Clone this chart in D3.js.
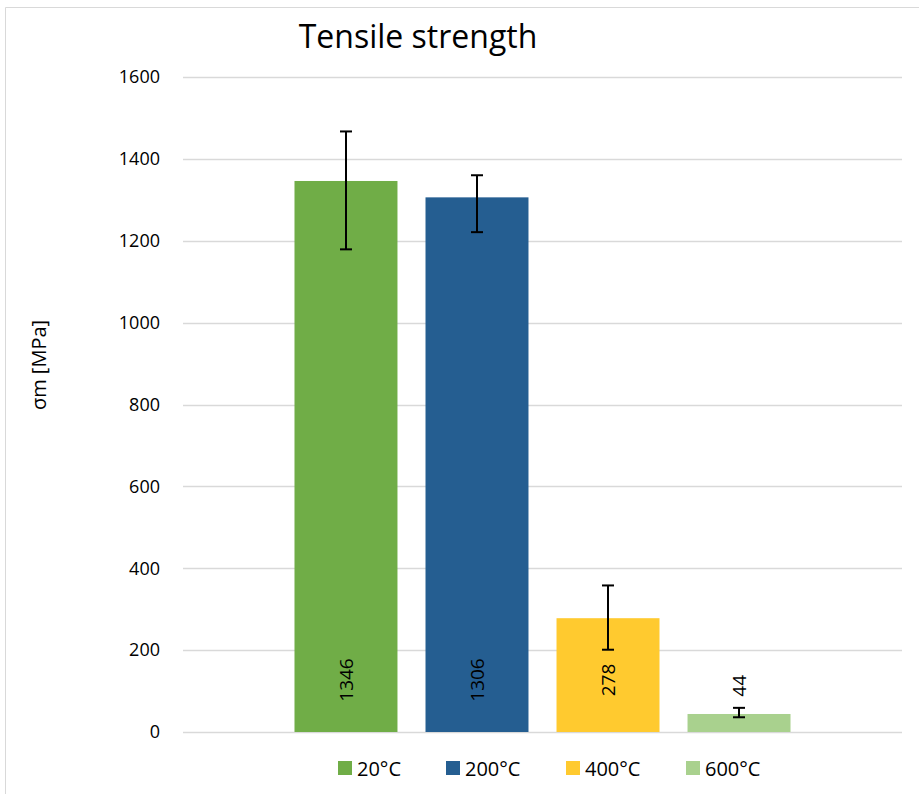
<!DOCTYPE html>
<html>
<head>
<meta charset="utf-8">
<script src="https://cdn.jsdelivr.net/npm/d3@7"></script>
<style>
  html, body { margin: 0; padding: 0; background: #fff; }
  svg { display: block; font-family: "Open Sans", "Noto Sans", sans-serif; }
</style>
</head>
<body>
<svg id="chart" width="919" height="794"></svg>
<script>
// Tensile strength by test temperature
const series = ["20°C", "200°C", "400°C", "600°C"];
const values = [1346, 1306, 278, 44];
const errPlus = [121, 54, 80, 15];
const errMinus = [167, 85, 77, 8];
const colors = ["#70AD47", "#255E91", "#FFCA2F", "#A9D18E"];
const yTicks = [0, 200, 400, 600, 800, 1000, 1200, 1400, 1600];

const svg = d3.select("#chart");

// chart frame
svg.append("path")
  .attr("d", "M5.5,794 V7.5 H919")
  .attr("fill", "none").attr("stroke", "#d9d9d9").attr("stroke-width", 1);

const plotLeft = 183, plotRight = 902, plotTop = 77, plotBottom = 732;

const y = d3.scaleLinear().domain([0, 1600]).range([plotBottom, plotTop]);
const x = d3.scaleBand().domain(series).range([plotLeft, plotRight])
  .paddingInner(0.214).paddingOuter(0.851);

// gridlines
svg.append("g").selectAll("line").data(yTicks).join("line")
  .attr("x1", plotLeft).attr("x2", plotRight)
  .attr("y1", d => Math.round(y(d)) + 0.5).attr("y2", d => Math.round(y(d)) + 0.5)
  .attr("stroke", "#d9d9d9").attr("stroke-width", 1.5);

// y axis labels
const yAxis = d3.axisLeft(y).tickValues(yTicks).tickFormat(d3.format("d"))
  .tickSize(0).tickPadding(0);
const gy = svg.append("g").attr("transform", "translate(160,0)").call(yAxis);
gy.select(".domain").remove();
gy.selectAll("text").attr("font-size", 18).attr("fill", "#000")
  .attr("font-family", "'Open Sans', sans-serif");

// bars
const rows = series.map((s, i) => ({ s, v: values[i], p: errPlus[i], m: errMinus[i], c: colors[i] }));
svg.append("g").selectAll("rect").data(rows).join("rect")
  .attr("x", d => x(d.s)).attr("width", x.bandwidth())
  .attr("y", d => y(d.v)).attr("height", d => y(0) - y(d.v))
  .attr("fill", d => d.c);

// error bars
const eb = svg.append("g").attr("stroke", "#000").attr("stroke-width", 2);
rows.forEach(d => {
  const cx = x(d.s) + x.bandwidth() / 2;
  const top = y(d.v + d.p), bot = y(d.v - d.m);
  eb.append("line").attr("x1", cx).attr("x2", cx).attr("y1", top).attr("y2", bot);
  eb.append("line").attr("x1", cx - 6).attr("x2", cx + 6).attr("y1", top).attr("y2", top);
  eb.append("line").attr("x1", cx - 6).attr("x2", cx + 6).attr("y1", bot).attr("y2", bot);
});

// value labels
svg.append("g").selectAll("text").data(rows).join("text")
  .attr("transform", d => {
    const cx = x(d.s) + x.bandwidth() / 2;
    const inside = y(0) - y(d.v) > 80;
    const cy = inside ? y(0) - 52 : y(d.v + d.p) - 22;
    return `translate(${cx},${cy}) rotate(-90)`;
  })
  .attr("text-anchor", "middle").attr("dominant-baseline", "central")
  .attr("font-size", 19).attr("fill", "#000")
  .text(d => d.v);

// title
svg.append("text").attr("x", 418).attr("y", 48).attr("text-anchor", "middle")
  .attr("font-size", 32).attr("fill", "#000").text("Tensile strength");

// y axis title
svg.append("text").attr("transform", "translate(38,365) rotate(-90)")
  .attr("text-anchor", "middle").attr("dominant-baseline", "central")
  .attr("font-size", 20).attr("fill", "#000").text("σm [MPa]");

// legend
const legendX = [338, 446, 566, 686];
const lg = svg.append("g").selectAll("g").data(rows).join("g")
  .attr("transform", (d, i) => `translate(${legendX[i]},761)`);
lg.append("rect").attr("width", 14).attr("height", 14).attr("fill", d => d.c);
lg.append("text").attr("x", 19).attr("y", 7).attr("dominant-baseline", "central")
  .attr("font-size", 20).attr("fill", "#000").text(d => d.s);
</script>
</body>
</html>
